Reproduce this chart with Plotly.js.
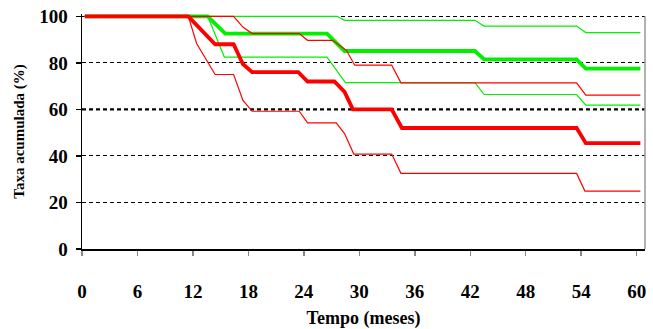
<!DOCTYPE html>
<html><head><meta charset="utf-8">
<script src="https://cdn.plot.ly/plotly-3.0.1.min.js"></script>
<style>html,body{margin:0;padding:0;background:#fff}#c{width:653px;height:329px}</style>
</head><body><div id="c"></div>
<script>
// Months and cumulative rates (%)
const redMidX = [0.3, 11.5, 14.4, 16.4, 17.4, 18.4, 23.4, 24.4, 27.3, 28.4, 29.3, 33.5, 34.6, 53.5, 54.5, 60.4];
const redMidY = [100, 100, 88, 88, 79.5, 76, 76, 72, 72, 67.5, 60, 60, 52, 52, 45.5, 45.5];
const redUpX  = [0.3, 16.4, 17.4, 18.4, 23.5, 24.4, 27.1, 28.6, 29.5, 33.5, 34.5, 53.5, 54.5, 60.4];
const redUpY  = [100, 100, 95.4, 92.6, 92.6, 89.7, 89.7, 85.4, 79, 79, 71.4, 71.4, 66.1, 66.1];
const redLowX = [0.3, 11.5, 12.4, 14.4, 16.4, 17.4, 18.4, 23.5, 24.4, 27.5, 28.4, 29.4, 33.5, 34.5, 53.5, 54.4, 60.4];
const redLowY = [100, 100, 88.3, 75, 75, 64, 59.2, 59.2, 54.2, 54.2, 49.6, 40.8, 40.8, 32.5, 32.5, 24.9, 24.9];
const greenMidX = [0.3, 13.6, 15.5, 26.5, 28.4, 42.5, 43.5, 53.5, 54.5, 60.4];
const greenMidY = [100, 100, 92.6, 92.6, 85.1, 85.1, 81.5, 81.5, 77.5, 77.5];
const greenUpX  = [0.3, 27.6, 28.4, 42.5, 43.5, 53.5, 54.5, 60.4];
const greenUpY  = [100, 100, 98.3, 98.3, 95.8, 95.8, 93, 93];
const greenLowX = [0.3, 13.6, 15.4, 26.5, 28.5, 42.5, 43.5, 53.5, 54.5, 60.4];
const greenLowY = [100, 100, 82.5, 82.5, 71.5, 71.5, 66.4, 66.4, 61.8, 61.8];
const xTicks = [0, 6, 12, 18, 24, 30, 36, 42, 48, 54, 60];
const yTicks = [0, 20, 40, 60, 80, 100];

const RED = '#ff0000', GREEN = '#00f000';
const mk = (x, y, c, w) => ({x, y, type: 'scatter', mode: 'lines', line: {color: c, width: w}, hoverinfo: 'skip'});
const data = [
  mk(greenUpX, greenUpY, GREEN, 1.2),
  mk(greenLowX, greenLowY, GREEN, 1.2),
  mk(greenMidX, greenMidY, GREEN, 3.8),
  mk(redUpX, redUpY, RED, 1.2),
  mk(redLowX, redLowY, RED, 1.2),
  mk(redMidX, redMidY, RED, 3.8)
];
const FAM = 'Liberation Serif';
const font = {family: FAM, color: '#000', weight: 'bold'};
const f = s => Object.assign({}, font, {size: s});
const layout = {
  width: 653, height: 329,
  margin: {l: 82, r: 8, t: 14, b: 80},
  paper_bgcolor: '#fff', plot_bgcolor: '#fff',
  showlegend: false,
  font: font,
  xaxis: {
    range: [0, 60.9], tickvals: xTicks, ticktext: xTicks.map(String),
    showgrid: false, zeroline: false, showline: true, linecolor: '#000', linewidth: 1.5,
    ticks: 'outside', ticklen: 5, tickcolor: '#888', tickwidth: 1.5,
    ticklabelstandoff: 20,
    tickfont: f(19),
    title: {text: 'Tempo (meses)', font: f(18), standoff: 24}
  },
  yaxis: {
    range: [0, 101], tickvals: yTicks, ticktext: yTicks.map(String),
    showgrid: true, gridcolor: '#000', gridwidth: 1, griddash: '4px,3px',
    zeroline: false, showline: true, linecolor: '#000', linewidth: 1.5,
    ticks: 'outside', ticklen: 5, tickcolor: '#000', tickwidth: 1.5,
    ticklabelstandoff: 4,
    tickfont: f(19),
    title: {text: 'Taxa acumulada (%)', font: f(15), standoff: 11}
  },
  shapes: [
    {type: 'line', xref: 'paper', yref: 'y', x0: 0, x1: 1, y0: 60, y1: 60, line: {color: '#000', width: 2.2, dash: '4px,3px'}, layer: 'below'},
    {type: 'line', xref: 'paper', yref: 'paper', x0: 1, x1: 1, y0: 0, y1: 0.99, line: {color: '#999', width: 1.5}}
  ]
};
Plotly.newPlot('c', data, layout, {staticPlot: true, displayModeBar: false});
</script>
</body></html>
